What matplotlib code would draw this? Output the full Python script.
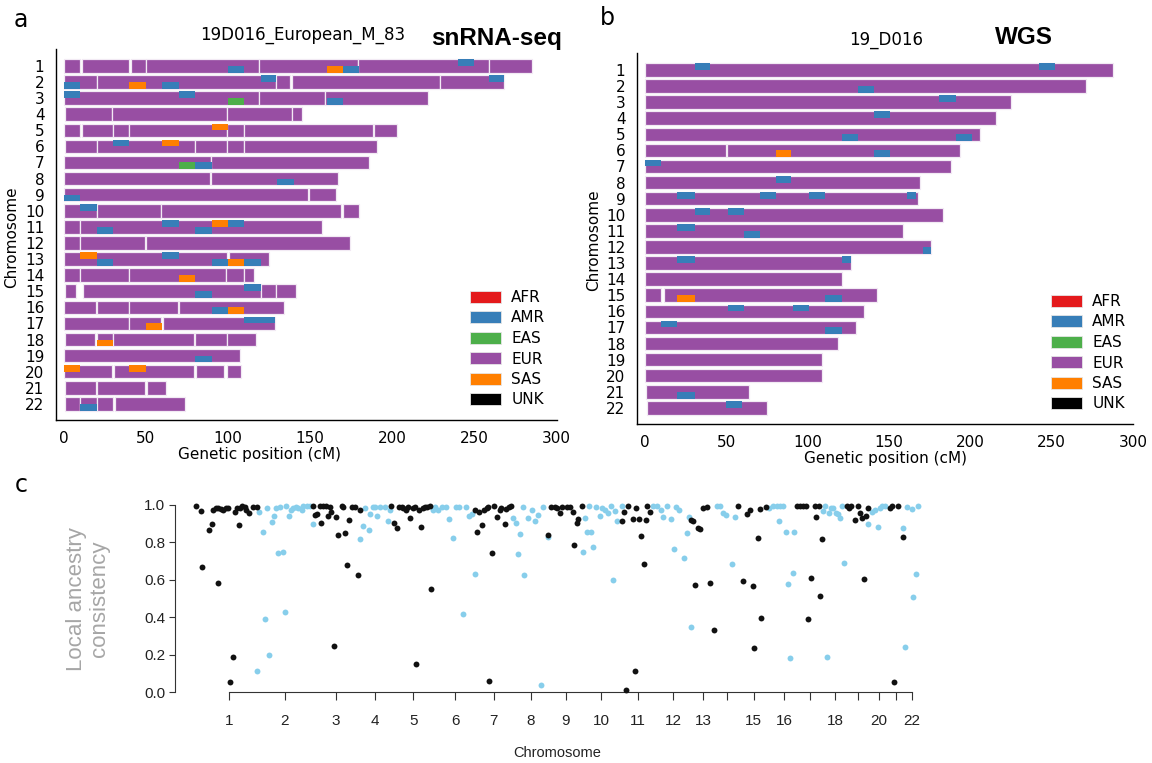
import numpy as np
import matplotlib.pyplot as plt
from matplotlib.patches import Rectangle, Patch

anc_colors = {'AFR': '#e41a1c', 'AMR': '#377eb8', 'EAS': '#4daf4a',
              'EUR': '#984ea3', 'SAS': '#ff7f00', 'UNK': '#000000'}
anc_order = ['AFR', 'AMR', 'EAS', 'EUR', 'SAS', 'UNK']

chroms = list(range(1, 23))

# panel a (snRNA-seq): EUR tracts per chromosome, cM
sn_tracts = [
    [(0, 10), (11, 40), (41, 50), (50, 119), (119, 179), (179, 259), (259, 285)],
    [(0, 20), (20, 129), (129, 138), (139, 229), (229, 268)],
    [(0, 119), (119, 159), (159, 222)],
    [(0.5, 29.5), (29.5, 99.5), (99.5, 139), (139, 145)],
    [(0, 10), (11, 30), (30, 40), (40, 99.5), (99.5, 110), (110, 188), (189, 203)],
    [(0.5, 20), (20, 80), (80, 99.5), (99.5, 110), (110, 191)],
    [(0, 89.5), (89.5, 186)],
    [(0, 89), (89.5, 167)],
    [(0, 149), (149.5, 166)],
    [(0, 20), (20, 59), (59.5, 169), (170, 180)],
    [(0, 10), (10, 157)],
    [(0, 10), (10, 49.5), (50, 174)],
    [(0, 99.5), (100.5, 125)],
    [(0, 10), (10, 39.5), (40, 98.5), (99, 109.5), (110, 116)],
    [(0.5, 7.5), (12, 120), (120, 129), (129.5, 141.5)],
    [(0, 19.5), (20.5, 39.5), (39.5, 69.5), (70, 134)],
    [(0, 39.5), (39.5, 59.5), (60.5, 128.5)],
    [(0.5, 19), (20, 30), (30, 79.5), (80, 99.5), (99.5, 117)],
    [(0, 107.5)],
    [(0, 29.5), (30.5, 79.5), (80.5, 97.5), (99.5, 108)],
    [(0.5, 19.5), (20, 49.5), (50.5, 62.5)],
    [(1, 10), (10, 20), (20, 30), (31.5, 74)],
]

# non-EUR windows: (chrom, haplotype 0=upper 1=lower, start, end, ancestry)
sn_windows = [
    (1, 0, 240, 250, 'AMR'), (1, 1, 100, 110, 'AMR'), (1, 1, 160, 170, 'SAS'), (1, 1, 170, 180, 'AMR'),
    (2, 0, 120, 129, 'AMR'), (2, 0, 259, 268, 'AMR'), (2, 1, 0, 10, 'AMR'), (2, 1, 40, 50, 'SAS'),
    (2, 1, 60, 70, 'AMR'),
    (3, 0, 0, 10, 'AMR'), (3, 0, 70, 80, 'AMR'), (3, 1, 100, 110, 'EAS'), (3, 1, 160, 170, 'AMR'),
    (5, 0, 90, 100, 'SAS'),
    (6, 0, 30, 40, 'AMR'), (6, 0, 60, 70, 'SAS'),
    (7, 1, 70, 80, 'EAS'), (7, 1, 80, 90, 'AMR'),
    (8, 1, 130, 140, 'AMR'),
    (9, 1, 0, 10, 'AMR'),
    (10, 0, 10, 20, 'AMR'),
    (11, 0, 60, 70, 'AMR'), (11, 0, 90, 100, 'SAS'), (11, 0, 100, 110, 'AMR'), (11, 1, 20, 30, 'AMR'),
    (11, 1, 80, 90, 'AMR'),
    (13, 0, 10, 20, 'SAS'), (13, 0, 60, 70, 'AMR'), (13, 1, 20, 30, 'AMR'), (13, 1, 90, 100, 'AMR'),
    (13, 1, 100, 110, 'SAS'), (13, 1, 110, 120, 'AMR'),
    (14, 1, 70, 80, 'SAS'),
    (15, 0, 110, 120, 'AMR'), (15, 1, 80, 90, 'AMR'),
    (16, 1, 90, 100, 'AMR'), (16, 1, 100, 110, 'SAS'),
    (17, 0, 110, 128.5, 'AMR'), (17, 1, 50, 60, 'SAS'),
    (18, 1, 20, 30, 'SAS'),
    (19, 1, 80, 90, 'AMR'),
    (20, 0, 0, 10, 'SAS'), (20, 0, 40, 50, 'SAS'),
    (22, 1, 10, 20, 'AMR'),
]

# panel b (WGS)
wgs_tracts = [
    [(0, 288)], [(0, 271)], [(0, 225)], [(0, 216)], [(0, 206)],
    [(0.2, 50), (50.7, 193.5)], [(0, 188.5)], [(0, 169)], [(0, 168)], [(0, 183)],
    [(0, 159)], [(0, 176)], [(0, 127)], [(0, 121)], [(0, 10), (11.7, 143)],
    [(0, 135)], [(0, 130)], [(0, 118.6)], [(0, 108.8)], [(0, 109)],
    [(1, 64)], [(1.3, 75)],
]

wgs_windows = [
    (1, 0, 31, 40, 'AMR'), (1, 0, 242, 252, 'AMR'),
    (2, 1, 131, 141, 'AMR'),
    (3, 0, 181, 191, 'AMR'),
    (4, 0, 141, 151, 'AMR'),
    (5, 1, 121, 131, 'AMR'), (5, 1, 191, 201, 'AMR'),
    (6, 1, 81, 90, 'SAS'), (6, 1, 141, 151, 'AMR'),
    (7, 0, 0, 10, 'AMR'),
    (8, 0, 81, 90, 'AMR'),
    (9, 0, 20, 31, 'AMR'), (9, 0, 71, 81, 'AMR'), (9, 0, 101, 111, 'AMR'), (9, 0, 161, 167, 'AMR'),
    (10, 0, 31, 40, 'AMR'), (10, 0, 51, 61, 'AMR'),
    (11, 0, 20, 31, 'AMR'), (11, 1, 61, 71, 'AMR'),
    (12, 1, 171, 176, 'AMR'),
    (13, 0, 20, 31, 'AMR'), (13, 0, 121, 127, 'AMR'),
    (15, 1, 20, 31, 'SAS'), (15, 1, 111, 121, 'AMR'),
    (16, 0, 51, 61, 'AMR'), (16, 0, 91, 101, 'AMR'),
    (17, 0, 10, 20, 'AMR'), (17, 1, 111, 121, 'AMR'),
    (21, 1, 20, 31, 'AMR'),
    (22, 0, 50, 60, 'AMR'),
]

# panel c: genome-wide position index and consistency
tick_pos = [235, 337, 430, 501, 571, 648, 718, 785, 849, 914, 981, 1045, 1100, 1144,
            1192, 1247, 1295, 1340, 1382, 1420, 1451, 1480]
tick_lab = ['1', '2', '3', '4', '5', '6', '7', '8', '9', '10', '11', '12', '13', '',
            '15', '16', '', '18', '', '20', '', '22']

black_x = [175, 184, 187, 199, 204, 207, 211, 216, 216, 220, 225, 230, 234, 238, 242, 246, 250,
           254, 255, 260, 264, 267, 272, 280, 286,
           389, 392, 396, 401, 404, 407, 413, 416, 419, 422, 427, 431, 435, 441, 444, 447, 451,
           455, 459, 465, 471, 474,
           530, 536, 541, 546, 550, 553, 558, 562, 565, 570, 574, 577, 582, 585, 589, 592, 597,
           602, 603,
           684, 687, 692, 696, 700, 705, 708, 710, 714, 718, 723, 729, 732, 738, 741, 746, 750,
           817, 823, 829, 833, 839, 842, 851, 857, 862, 864, 869, 872, 878,
           951, 955, 959, 963, 971, 975, 978, 982, 986, 991, 995, 998, 1003,
           1077, 1082, 1085, 1090, 1094, 1100, 1106, 1112, 1120,
           1164, 1172, 1179, 1185, 1190, 1193, 1199, 1203, 1206, 1215,
           1270, 1276, 1282, 1288, 1290, 1297, 1303, 1305, 1310, 1313, 1317,
           1361, 1365, 1370, 1376, 1381, 1385, 1389, 1392, 1396, 1401,
           1440, 1443, 1448, 1455, 1464]
black_y = [0.996, 0.97, 0.667, 0.866, 0.898, 0.973, 0.986, 0.982, 0.581, 0.979, 0.973, 0.986,
           0.986, 0.055, 0.185, 0.961, 0.982, 0.891, 0.986, 0.996, 0.991, 0.973, 0.955, 0.991,
           0.991,
           0.996, 0.947, 0.95, 0.996, 0.904, 0.996, 0.996, 0.943, 0.991, 0.961, 0.246, 0.936,
           0.84, 0.996, 0.991, 0.848, 0.679, 0.918, 0.991, 0.991, 0.626, 0.973,
           0.996, 0.905, 0.875, 0.991, 0.991, 0.982, 0.973, 0.991, 0.932, 0.982, 0.991, 0.15,
           0.973, 0.884, 0.982, 0.991, 0.991, 0.996, 0.551,
           0.973, 0.857, 0.964, 0.893, 0.973, 0.982, 0.991, 0.061, 0.742, 0.996, 0.938, 0.973,
           0.982, 0.897, 0.979, 0.991, 0.996,
           0.84, 0.991, 0.991, 0.982, 0.955, 0.991, 0.991, 0.991, 0.961, 0.786, 0.902, 0.925,
           0.996,
           0.916, 0.964, 0.011, 0.996, 0.923, 0.114, 0.986, 0.923, 0.836, 0.684, 0.92, 0.996,
           0.964,
           0.92, 0.914, 0.572, 0.875, 0.87, 0.986, 0.991, 0.585, 0.332,
           0.996, 0.595, 0.95, 0.973, 0.569, 0.233, 0.822, 0.979, 0.398, 0.991,
           0.996, 0.996, 0.996, 0.996, 0.39, 0.611, 0.996, 0.938, 0.996, 0.513, 0.818,
           0.996, 0.986, 0.996, 0.92, 0.996, 0.955, 0.932, 0.604, 0.943, 0.986,
           0.986, 0.996, 0.055, 0.996, 0.83]

blue_x = [286, 290, 298, 301, 305, 309, 313, 318, 321, 325, 328, 333, 337, 340, 345, 349, 352,
          358, 362, 368, 371, 377, 383, 388,
          475, 479, 483, 490, 493, 498, 501, 506, 510, 520, 526, 529,
          608, 611, 617, 623, 631, 636, 644, 649, 655, 662, 668, 673, 678, 684,
          753, 758, 763, 766, 772, 774, 781, 787, 793, 799, 805, 808, 817,
          880, 884, 888, 892, 896, 899, 904, 912, 915, 921, 927, 931, 935, 939, 943, 951,
          1009, 1015, 1022, 1027, 1033, 1041, 1046, 1051, 1056, 1065, 1070, 1073, 1077,
          1124, 1130, 1136, 1141, 1152, 1158,
          1220, 1227, 1234, 1238, 1240, 1246, 1251, 1255, 1258, 1263, 1266,
          1318, 1322, 1326, 1329, 1333, 1337, 1341, 1346, 1349, 1352, 1356,
          1401, 1407, 1413, 1418, 1422, 1425, 1431,
          1464, 1468, 1472, 1480, 1483, 1487, 1491]
blue_y = [0.114, 0.961, 0.857, 0.39, 0.986, 0.198, 0.907, 0.943, 0.986, 0.742, 0.991, 0.75,
          0.43, 0.996, 0.943, 0.973, 0.986, 0.991, 0.982, 0.973, 0.995, 0.996, 0.996, 0.897,
          0.816, 0.888, 0.986, 0.866, 0.952, 0.991, 0.991, 0.943, 0.991, 0.991, 0.914, 0.973,
          0.973, 0.991, 0.973, 0.991, 0.991, 0.925, 0.825, 0.991, 0.991, 0.417, 0.991, 0.943,
          0.952, 0.629,
          0.932, 0.902, 0.736, 0.843, 0.991, 0.626, 0.932, 0.973, 0.914, 0.947, 0.037, 0.991,
          0.827,
          0.747, 0.932, 0.857, 0.996, 0.854, 0.777, 0.991, 0.943, 0.982, 0.973, 0.955, 0.996,
          0.599, 0.968, 0.916, 0.996,
          0.996, 0.996, 0.973, 0.938, 0.996, 0.925, 0.765, 0.991, 0.973, 0.718, 0.848, 0.938,
          0.346,
          0.996, 0.996, 0.955, 0.947, 0.684, 0.938,
          0.986, 0.996, 0.996, 0.914, 0.996, 0.996, 0.857, 0.578, 0.184, 0.638, 0.857,
          0.97, 0.996, 0.187, 0.955, 0.982, 0.986, 0.955, 0.95, 0.929, 0.996, 0.688,
          0.898, 0.964, 0.973, 0.88, 0.986, 0.996, 0.996,
          0.875, 0.242, 0.991, 0.979, 0.51, 0.633, 0.996]

W, H = 1152, 763
fig = plt.figure(figsize=(W / 100, H / 100), dpi=100)


def px_rect(x0, y0, x1, y1):
    # figure pixel box (top-left origin) -> axes rect
    return [x0 / W, 1 - y1 / H, (x1 - x0) / W, (y1 - y0) / H]


def draw_karyo(ax, tracts, windows, legend_xy):
    for c, segs in zip(chroms, tracts):
        for s, e in segs:
            ax.add_patch(Rectangle((s, c - 0.42), e - s, 0.84, facecolor=anc_colors['EUR'],
                                   edgecolor='#f2eaf4', lw=0.9))
    for c, hap, s, e, a in windows:
        y0 = c - 0.42 if hap == 0 else c
        ax.add_patch(Rectangle((s, y0), e - s, 0.42, facecolor=anc_colors[a], edgecolor='none'))
    ax.set_xlim(-5, 300)
    ax.set_ylim(23, -0.05)
    ax.set_yticks(chroms)
    ax.set_yticklabels([str(c) for c in chroms])
    ax.set_xticks(range(0, 301, 50))
    ax.tick_params(length=0, labelsize=11)
    ax.tick_params(axis='y', pad=8)
    ax.tick_params(axis='x', pad=8)
    for s in ['top', 'right']:
        ax.spines[s].set_visible(False)
    for s in ['left', 'bottom']:
        ax.spines[s].set_linewidth(1.0)
    handles = [Patch(facecolor=anc_colors[a], edgecolor='#e6e6e6', lw=0.6, label=a) for a in anc_order]
    ax.legend(handles=handles, loc='upper left', bbox_to_anchor=(legend_xy[0] / W, 1 - legend_xy[1] / H),
              bbox_transform=fig.transFigure, frameon=False, fontsize=11, handlelength=2.0,
              handleheight=0.8, labelspacing=0.36, handletextpad=0.7, borderpad=0, borderaxespad=0)


ax_a = fig.add_axes(px_rect(55.5, 49, 556.5, 420))
draw_karyo(ax_a, sn_tracts, sn_windows, (470, 290))
ax_b = fig.add_axes(px_rect(636.5, 53, 1133, 424))
draw_karyo(ax_b, wgs_tracts, wgs_windows, (1051, 294))

fig.text(303 / W, 1 - 35 / H, '19D016_European_M_83', ha='center', va='center', fontsize=12)
fig.text(497 / W, 1 - 38 / H, 'snRNA-seq', ha='center', va='center', fontsize=17.5,
         fontweight='bold', family='Liberation Sans')
fig.text(886 / W, 1 - 40 / H, '19_D016', ha='center', va='center', fontsize=12)
fig.text(1024 / W, 1 - 38 / H, 'WGS', ha='center', va='center', fontsize=17.5,
         fontweight='bold', family='Liberation Sans')
fig.text(12 / W, 1 - 237 / H, 'Chromosome', rotation=90, ha='center', va='center', fontsize=11)
fig.text(594 / W, 1 - 240 / H, 'Chromosome', rotation=90, ha='center', va='center', fontsize=11)
fig.text(260 / W, 1 - 455 / H, 'Genetic position (cM)', ha='center', va='center', fontsize=11)
fig.text(886 / W, 1 - 459 / H, 'Genetic position (cM)', ha='center', va='center', fontsize=11)

for lab, (x, y) in zip(['a', 'b', 'c'], [(21, 20), (607, 18), (21, 485)]):
    fig.text(x / W, 1 - y / H, lab, ha='center', va='center', fontsize=17)

# panel c
ax_c = fig.add_axes(px_rect(175, 505, 922.8, 692))
ax_c.scatter(blue_x, blue_y, s=18, color='#87ceeb', lw=0, clip_on=False, zorder=2)
ax_c.scatter(black_x, black_y, s=18, color='#111111', lw=0, clip_on=False, zorder=3)
ax_c.set_xlim(137, 1500)
ax_c.set_ylim(0, 1)
for s in ['top', 'right']:
    ax_c.spines[s].set_visible(False)
ax_c.spines['left'].set_bounds(0, 1)
ax_c.spines['bottom'].set_bounds(tick_pos[0], tick_pos[-1])
ax_c.spines['left'].set_color('#333333')
ax_c.spines['bottom'].set_color('#333333')
ax_c.set_xticks(tick_pos)
ax_c.set_xticklabels(tick_lab, family='Liberation Sans', fontsize=11, color='#222222')
ax_c.set_yticks(np.arange(0, 1.01, 0.2))
ax_c.set_yticklabels(['0.0', '0.2', '0.4', '0.6', '0.8', '1.0'], family='Liberation Sans',
                     fontsize=11, color='#222222')
ax_c.tick_params(axis='x', length=6, pad=10, color='#333333')
ax_c.tick_params(axis='y', length=4, pad=3, color='#333333')
fig.text(88 / W, 1 - 599 / H, 'Local ancestry\nconsistency', rotation=90, ha='center', va='center',
         fontsize=16, color='#a6a6a6', family='Liberation Sans', linespacing=1.1)
fig.text(557 / W, 1 - 753 / H, 'Chromosome', ha='center', va='center', fontsize=10.5,
         family='Liberation Sans', color='#222222')

fig.savefig('out.png', dpi=100)
